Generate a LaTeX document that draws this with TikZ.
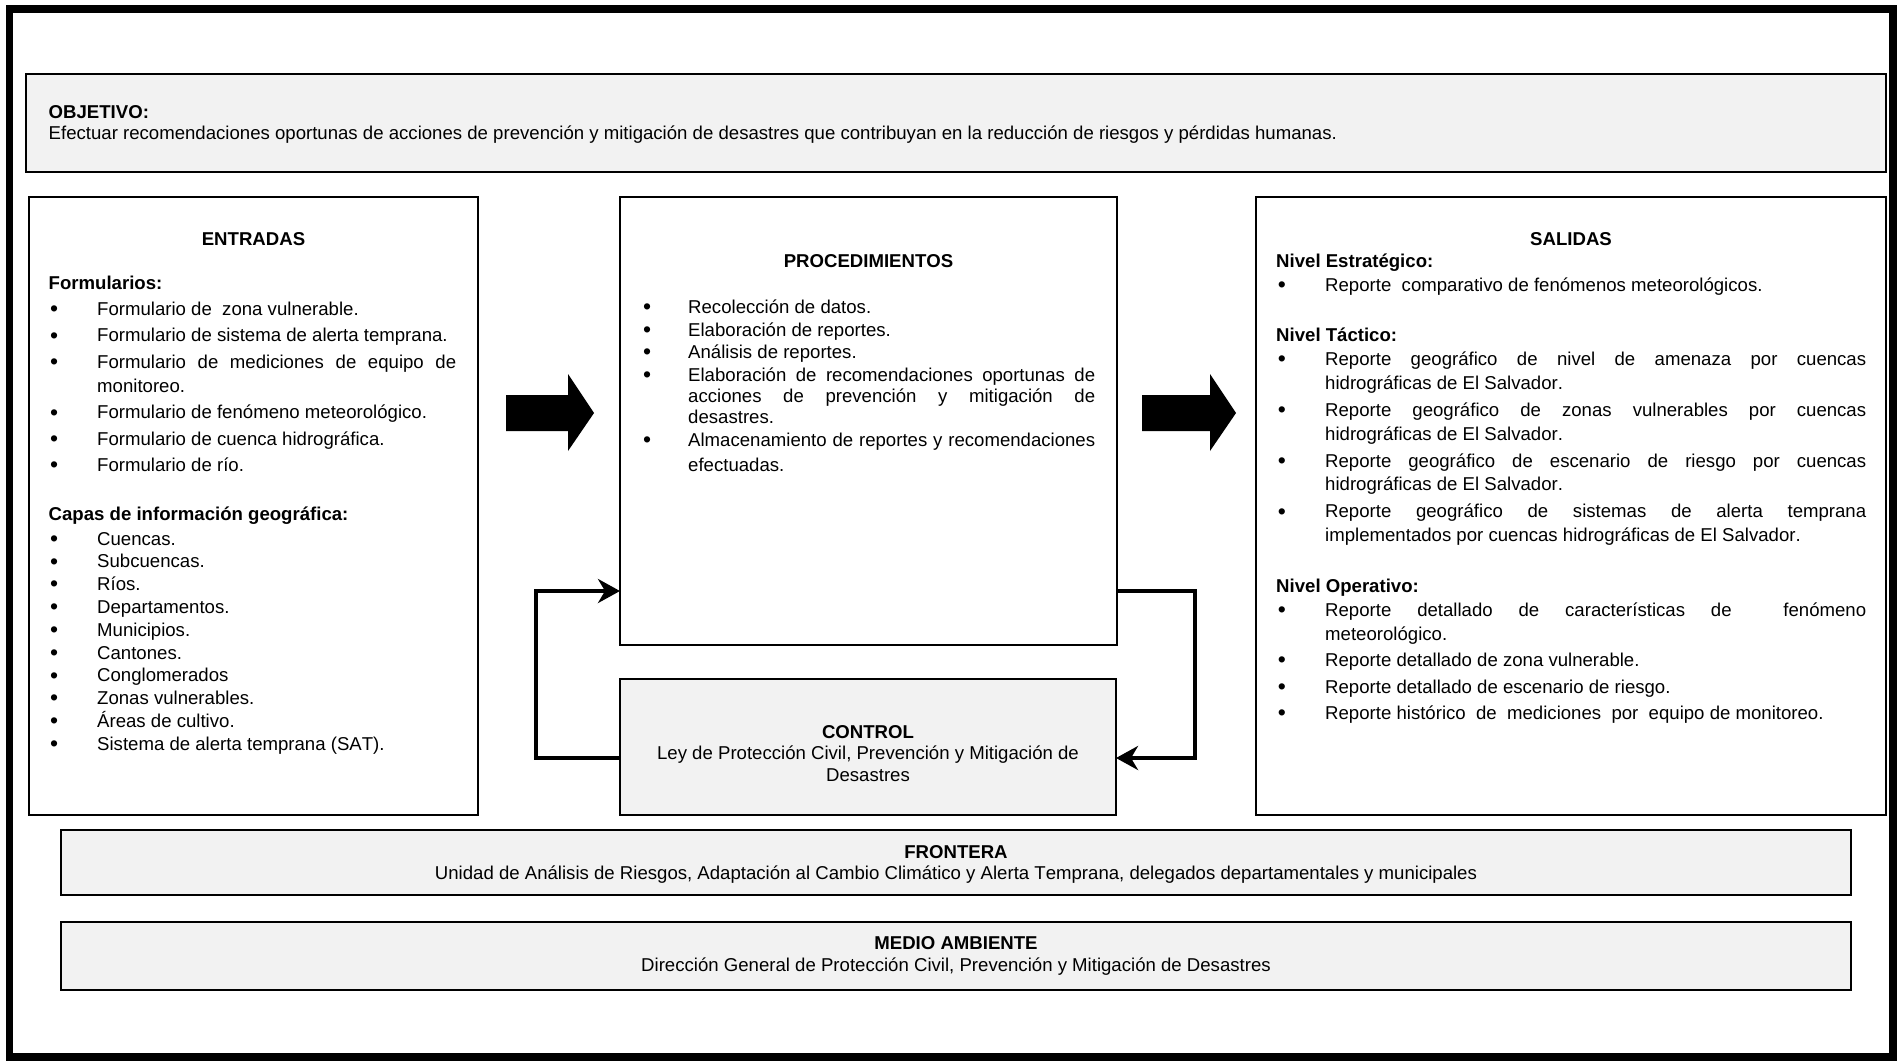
\documentclass[tikz,border=0pt]{standalone}
\usepackage{fontspec}
\setmainfont{Liberation Sans}[Kerning=Off]
\usetikzlibrary{arrows.meta}
\definecolor{boxgray}{HTML}{F2F2F2}
\newlength{\hi}\newlength{\bo}
\newcommand{\mybul}{\raisebox{-1.2pt}{\fontsize{23}{23}\selectfont\textbullet}}
\newcommand{\itm}[1]{\hangindent=\hi\hangafter=1\noindent\hbox to\hi{\hskip\bo\mybul\hfil}#1\par}
\newcommand{\mylistfmt}[4]{\fontsize{18.6}{#1}\selectfont\setlength{\parskip}{#2}\setlength{\hi}{#3}\setlength{\bo}{#4}\hyphenpenalty=10000\exhyphenpenalty=10000\tolerance=10000\parindent=0pt}
\begin{document}
\begin{tikzpicture}[x=1pt,y=-1pt,
 box/.style={draw=black, line width=2.5pt, outer sep=0pt, inner sep=0pt, anchor=north west},
 gbox/.style={box, fill=boxgray},
 tt/.style={inner sep=0pt, font=\fontsize{18.6}{22}\selectfont\bfseries},
 tx/.style={inner sep=0pt, font=\fontsize{18.6}{22}\selectfont},
 lst/.style={inner sep=0pt, anchor=base west, align=justify},
 loopline/.style={line width=4pt, -{Stealth[length=22pt,width=24pt,inset=7pt]}},
 blockarrow/.style={fill=black}]
\useasboundingbox (0,0) rectangle (1902,1060);
% outer frame
\draw[line width=7.5pt] (9.5,9) rectangle (1893,1057);
% boxes
\node[gbox, minimum width=1860pt, minimum height=98pt] (obj) at (26,74) {};
\node[box, minimum width=449pt, minimum height=618pt] (ent) at (29,197) {};
\node[box, minimum width=497pt, minimum height=448pt] (proc) at (620,197) {};
\node[gbox, minimum width=496pt, minimum height=136pt] (ctrl) at (620,679) {};
\node[box, minimum width=630pt, minimum height=618pt] (sal) at (1256,197) {};
\node[gbox, minimum width=1790pt, minimum height=65pt] (fron) at (61,830) {};
\node[gbox, minimum width=1790pt, minimum height=68pt] (med) at (61,922) {};
% objective
\node[tt, anchor=base west] (tobj) at (48.5,118) {OBJETIVO:};
\node[tx, anchor=base west] (bobj) at (48.5,139.5) {Efectuar recomendaciones oportunas de acciones de prevención y mitigación de desastres que contribuyan en la reducción de riesgos y pérdidas humanas.};
% entradas
\node[tt, anchor=base] (tent) at (253.5,245.5) {ENTRADAS};
\node[tt, anchor=base west] (tform) at (48.5,289.5) {Formularios:};
\node[lst, text width=407.5pt] (lform) at (48.5,315.5) {\mylistfmt{24.5}{1.8pt}{48.5pt}{1.5pt}%
\itm{Formulario de\ \ zona vulnerable.}%
\itm{Formulario de sistema de alerta temprana.}%
\itm{Formulario de mediciones de equipo de\linebreak monitoreo.}%
\itm{Formulario de fenómeno meteorológico.}%
\itm{Formulario de cuenca hidrográfica.}%
\itm{Formulario de río.}};
\node[tt, anchor=base west] (tcapas) at (48.5,520.5) {Capas de información geográfica:};
\node[lst, text width=407.5pt] (lcapas) at (48.5,545) {\mylistfmt{22.8}{0pt}{48.5pt}{1.5pt}%
\itm{Cuencas.}%
\itm{Subcuencas.}%
\itm{Ríos.}%
\itm{Departamentos.}%
\itm{Municipios.}%
\itm{Cantones.}%
\itm{Conglomerados}%
\itm{Zonas vulnerables.}%
\itm{Áreas de cultivo.}%
\itm{Sistema de alerta temprana (SAT).}};
% procedimientos
\node[tt, anchor=base] (tproc) at (868.5,267.5) {PROCEDIMIENTOS};
\node[lst, text width=452pt] (lproc) at (643,313.5) {\mylistfmt{21.3}{1.3pt}{45pt}{0pt}%
\itm{Recolección de datos.}%
\itm{Elaboración de reportes.}%
\itm{Análisis de reportes.}%
\itm{Elaboración de recomendaciones oportunas de\linebreak acciones de prevención y mitigación de\linebreak desastres.}%
\itm{Almacenamiento de reportes y recomendaciones\linebreak\rule{0pt}{20.5pt}efectuadas.}};
% salidas
\node[tt, anchor=base] (tsal) at (1571,245.5) {SALIDAS};
\node[tt, anchor=base west] (test) at (1276,267.5) {Nivel Estratégico:};
\node[lst, text width=590pt] (lest) at (1276,291.5) {\mylistfmt{23.8}{0pt}{49pt}{1.75pt}%
\itm{Reporte\ \ comparativo de fenómenos meteorológicos.}};
\node[tt, anchor=base west] (ttac) at (1276,341.5) {Nivel Táctico:};
\node[lst, text width=590pt] (ltac) at (1276,365.5) {\mylistfmt{23.8}{3.2pt}{49pt}{1.75pt}%
\itm{Reporte geográfico de nivel de amenaza por cuencas\linebreak hidrográficas de El Salvador.}%
\itm{Reporte geográfico de zonas vulnerables por cuencas\linebreak hidrográficas de El Salvador.}%
\itm{Reporte geográfico de escenario de riesgo por cuencas\linebreak hidrográficas de El Salvador.}%
\itm{Reporte geográfico de sistemas de alerta temprana\linebreak implementados por cuencas hidrográficas de El Salvador.}};
\node[tt, anchor=base west] (top) at (1276,592.5) {Nivel Operativo:};
\node[lst, text width=590pt] (lop) at (1276,616.5) {\mylistfmt{23.5}{3pt}{49pt}{1.75pt}%
\itm{Reporte detallado de características de\ \ fenómeno\linebreak meteorológico.}%
\itm{Reporte detallado de zona vulnerable.}%
\itm{Reporte detallado de escenario de riesgo.}%
\itm{Reporte histórico\ \ de\ \ mediciones\ \ por\ \ equipo de monitoreo.}};
% control
\node[tt, anchor=base] (tctrl) at (868,738) {CONTROL};
\node[tx, anchor=base] (c1) at (868,759.5) {Ley de Protección Civil, Prevención y Mitigación de};
\node[tx, anchor=base] (c2) at (868,781.5) {Desastres};
% frontera / medio ambiente
\node[tt, anchor=base] (tfron) at (956,858) {FRONTERA};
\node[tx, anchor=base] (bfron) at (956,879.5) {Unidad de Análisis de Riesgos, Adaptación al Cambio Climático y Alerta Temprana, delegados departamentales y municipales};
\node[tt, anchor=base] (tmed) at (956,949) {MEDIO AMBIENTE};
\node[tx, anchor=base] (bmed) at (956,971) {Dirección General de Protección Civil, Prevención y Mitigación de Desastres};
% block arrows
\fill[blockarrow] (506,395) -- (568,395) -- (568,374) -- (594,413) -- (568,451) -- (568,431) -- (506,431) -- cycle;
\fill[blockarrow] (1142,395) -- (1210,395) -- (1210,374) -- (1236,413) -- (1210,451) -- (1210,431) -- (1142,431) -- cycle;
% feedback loops
\coordinate (lb) at (536,758);
\coordinate (lt) at (536,591);
\coordinate (rt) at (1195,591);
\coordinate (rb) at (1195,758);
\draw[loopline] (ctrl.west |- lb) -- (lb) -- (lt) -- (proc.west |- lt);
\draw[loopline] (proc.east |- rt) -- (rt) -- (rb) -- (ctrl.east |- rb);
\end{tikzpicture}
\end{document}
